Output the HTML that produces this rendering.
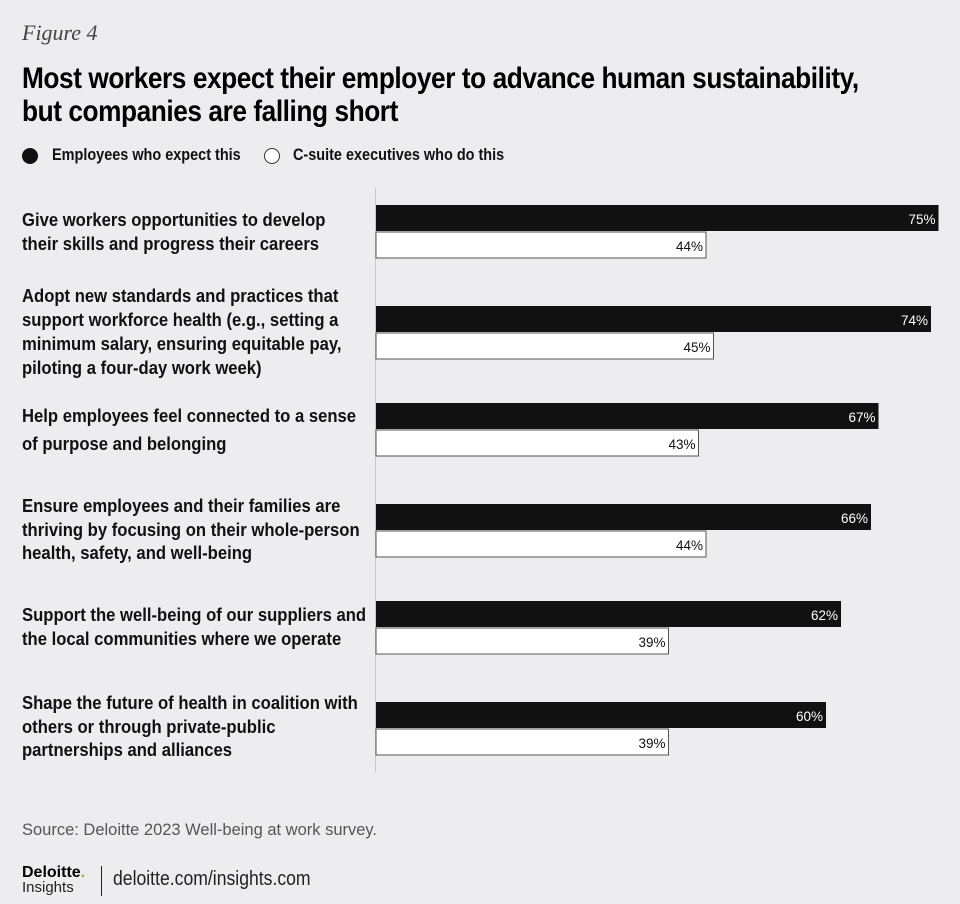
<!DOCTYPE html>
<html><head><meta charset="utf-8">
<style>
body{margin:0;width:960px;height:904px;background:#ededef;font-family:"Liberation Sans",sans-serif;color:#111;position:relative;overflow:hidden}
.abs{position:absolute;white-space:nowrap;transform-origin:0 0}
.fig{left:22px;top:20px;font-family:"Liberation Serif",serif;font-style:italic;font-size:22px;color:#444}
.title{left:22px;top:62px;font-weight:bold;font-size:30px;line-height:33px;letter-spacing:-0.5px;color:#000;transform:scaleX(0.875)}
.leg{top:145px;font-weight:bold;font-size:17px;transform:scaleX(0.85)}
.dot{position:absolute;width:16px;height:16px;border-radius:50%;top:148px}
.lbl{left:22px;font-weight:bold;font-size:18.5px;line-height:24px;transform:scaleX(0.9)}
.src{left:22px;top:820px;font-size:17px;color:#555;transform:scaleX(0.97)}
</style></head><body>
<div class="abs fig">Figure 4</div>
<div class="abs title">Most workers expect their employer to advance human sustainability,<br>but companies are falling short</div>
<div class="dot" style="left:22px;background:#111"></div>
<div class="abs leg" style="left:52px">Employees who expect this</div>
<div class="dot" style="left:264px;background:#fff;border:1px solid #333;box-sizing:border-box"></div>
<div class="abs leg" style="left:293px">C-suite executives who do this</div>

<div class="abs lbl" style="top:208px">Give workers opportunities to develop<br>their skills and progress their careers</div>
<div class="abs lbl" style="top:284px">Adopt new standards and practices that<br>support workforce health (e.g., setting a<br>minimum salary, ensuring equitable pay,<br>piloting a four-day work week)</div>
<div class="abs lbl" style="top:402px;line-height:28px">Help employees feel connected to a sense<br>of purpose and belonging</div>
<div class="abs lbl" style="top:494px;line-height:23.5px">Ensure employees and their families are<br>thriving by focusing on their whole-person<br>health, safety, and well-being</div>
<div class="abs lbl" style="top:603px">Support the well-being of our suppliers and<br>the local communities where we operate</div>
<div class="abs lbl" style="top:691px;line-height:23.5px">Shape the future of health in coalition with<br>others or through private-public<br>partnerships and alliances</div>

<svg class="abs" style="left:0;top:0" width="960" height="904">
<line x1="375.5" y1="188" x2="375.5" y2="772" stroke="#c8c8c8" stroke-width="1"/>
<g id="bars"></g>
</svg>

<div class="abs src">Source: Deloitte 2023 Well-being at work survey.</div>
<div class="abs" style="left:22px;top:864px;font-weight:bold;font-size:16px;color:#000">Deloitte<span style="color:#86bc25">.</span></div>
<div class="abs" style="left:22px;top:879px;font-size:15px;color:#222">Insights</div>
<div class="abs" style="left:101px;top:866px;width:1px;height:30px;background:#222"></div>
<div class="abs" style="left:113px;top:868px;font-size:20px;color:#222;transform:scaleX(0.88)">deloitte.com/insights.com</div>

<script>
const categories=["Give workers opportunities","Adopt new standards","Help employees feel connected","Ensure employees thriving","Support well-being of suppliers","Shape the future of health"];
const employees=[75,74,67,66,62,60];
const csuite=[44,45,43,44,39,39];
const groupTops=[205,306,403,504,601,702];
const x0=376, pxPer=7.5, bh=26;
function xScale(v){return v*pxPer;}
const g=document.getElementById('bars');
const NS="http://www.w3.org/2000/svg";
categories.forEach((c,i)=>{
  [[employees[i],'#111','#fff','employees'],[csuite[i],'#fff','#111','csuite']].forEach((s,j)=>{
    const y=groupTops[i]+j*(bh+1);
    const w=xScale(s[0]);
    const r=document.createElementNS(NS,'rect');
    r.setAttribute('x',x0);r.setAttribute('y',y);r.setAttribute('width',w);r.setAttribute('height',bh);
    r.setAttribute('fill',s[1]);
    if(j===1){r.setAttribute('stroke','#555');r.setAttribute('stroke-width','1');}
    
    
    g.appendChild(r);
    const t=document.createElementNS(NS,'text');
    t.setAttribute('x',x0+w-3);t.setAttribute('y',y+19);
    t.setAttribute('text-anchor','end');t.setAttribute('fill',s[2]);
    t.setAttribute('font-family','"Liberation Sans",sans-serif');
    t.setAttribute('font-size','14');
    t.setAttribute('textLength','27');
    t.setAttribute('lengthAdjust','spacingAndGlyphs');
    t.textContent=s[0]+'%';
    
    
    g.appendChild(t);
  });
});
</script>
</body></html>
